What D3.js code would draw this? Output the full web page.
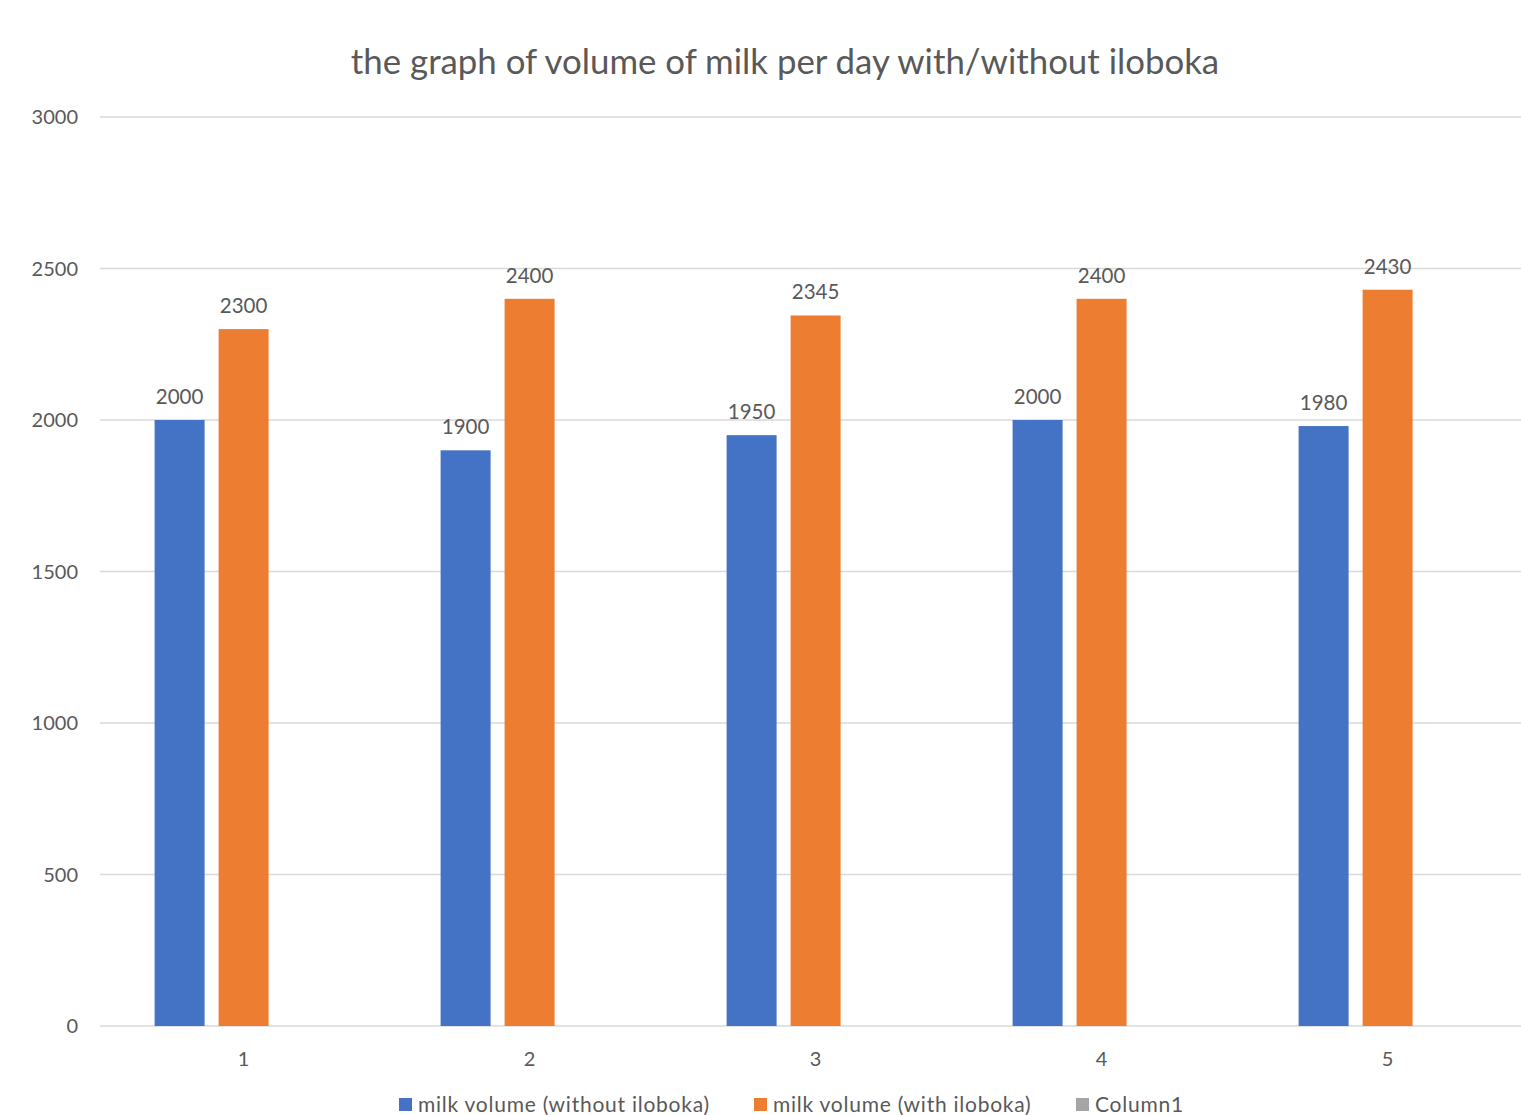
<!DOCTYPE html>
<html><head><meta charset="utf-8">
<script src="https://cdn.jsdelivr.net/npm/d3@7"></script>
<style>body{margin:0;background:#fff;overflow:hidden}svg{display:block}text{font-family:Lato,"Open Sans",sans-serif;fill:#595959}</style>
</head><body><svg id="c" width="1521" height="1115"></svg>
<script>
const categories = ["1","2","3","4","5"];
const seriesNames = ["milk volume (without iloboka)","milk volume (with iloboka)","Column1"];
const withoutIloboka = [2000,1900,1950,2000,1980];
const withIloboka = [2300,2400,2345,2400,2430];
const column1 = [null,null,null,null,null];
const yTicks = [0,500,1000,1500,2000,2500,3000];
const colors = ["#4472C4","#ED7D31","#A5A5A5"];
const title = "the graph of volume of milk per day with/without iloboka";

const svg = d3.select("#c");
const y = d3.scaleLinear().domain([0,3000]).range([1026,117]);
const x0 = d3.scaleBand().domain(categories).range([100.6,1530.6]).padding(0);
const groupW = 178;
const x1 = d3.scaleBand().domain(seriesNames).range([0,groupW]).paddingInner(14/64).paddingOuter(0);
const allSeries = [withoutIloboka, withIloboka, column1];

// gridlines
svg.append("g").selectAll("line").data(yTicks).join("line")
  .attr("x1",100).attr("x2",1521).attr("y1",d=>y(d)).attr("y2",d=>y(d))
  .attr("stroke","#d9d9d9").attr("stroke-width",1.5);

// y labels
svg.append("g").selectAll("text").data(yTicks).join("text")
  .attr("x",78).attr("y",d=>y(d)+7).attr("text-anchor","end")
  .attr("font-size",20).text(d=>d);

// bars
const g = svg.append("g");
categories.forEach((c,i)=>{
  const gx = x0(c) + (x0.bandwidth()-groupW)/2;
  allSeries.forEach((s,j)=>{
    const v = s[i];
    if(v==null) return;
    const bx = gx + x1(seriesNames[j]);
    g.append("rect").attr("x",bx).attr("y",y(v)).attr("width",x1.bandwidth())
      .attr("height",y(0)-y(v)).attr("fill",colors[j]);
    g.append("text").attr("x",bx+x1.bandwidth()/2).attr("y",y(v)-16)
      .attr("text-anchor","middle").attr("font-size",20.5).text(v);
  });
});

// x labels
svg.append("g").selectAll("text").data(categories).join("text")
  .attr("x",d=>x0(d)+x0.bandwidth()/2).attr("y",1066).attr("text-anchor","middle")
  .attr("font-size",20).text(d=>d);

// title
svg.append("text").attr("x",785).attr("y",74).attr("text-anchor","middle")
  .attr("font-size",34.8).text(title);

// legend
const legX = [399,754,1076];
const lg = svg.append("g");
seriesNames.forEach((n,j)=>{
  lg.append("rect").attr("x",legX[j]).attr("y",1098).attr("width",13).attr("height",13).attr("fill",colors[j]);
  lg.append("text").attr("x",legX[j]+19).attr("y",1112).attr("font-size",21)
    .attr("letter-spacing",0.75).text(n);
});
</script></body></html>
